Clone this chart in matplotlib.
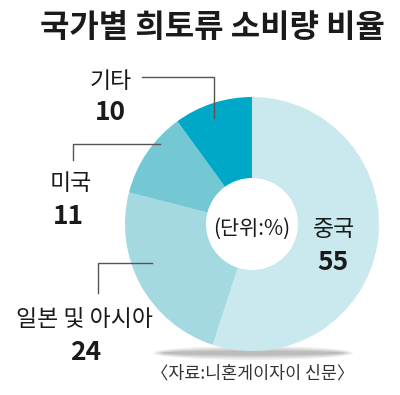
import matplotlib
matplotlib.use("Agg")
import matplotlib.pyplot as plt
from matplotlib.patches import Ellipse

plt.rcParams["font.family"] = ["Noto Sans CJK KR", "DejaVu Sans"]

# data
labels = ["중국", "일본 및 아시아", "미국", "기타"]
values = [55, 24, 11, 10]
colors = ["#c9e9ee", "#a4d9e1", "#73c8d3", "#00a8c8"]
title = "국가별 희토류 소비량 비율"
unit = "(단위:%)"
source = "〈자료:니혼게이자이 신문〉"

W, H = 400, 395
fig = plt.figure(figsize=(4.0, 3.95), dpi=100)
ax = fig.add_axes([0, 0, 1, 1])

def py(y):  # pixel row -> data y
    return H - y

cx, cy, R = 252, py(224), 127

# soft shadow under the donut
for i, a in enumerate([0.12, 0.15, 0.2, 0.25]):
    ax.add_patch(Ellipse((253, py(353)), 200 - i * 6, 14 - i * 3,
                         color="#8a8a8a", alpha=a, lw=0, zorder=1))

ax.pie(values, colors=colors, startangle=90, counterclock=False,
       center=(cx, cy), radius=R,
       wedgeprops=dict(width=R - 46, linewidth=0), frame=False)
for w in ax.patches[4:]:
    w.set_zorder(2)

ax.set_xlim(0, W)
ax.set_ylim(0, H)
ax.set_aspect("equal")
ax.axis("off")

ax.text(212, py(28), title, ha="center", va="center", fontsize=23,
        fontweight="bold", color="#1a1a1a")

lab_kw = dict(ha="center", va="center", fontsize=16.5, color="#1a1a1a")
num_kw = dict(ha="center", va="center", fontsize=19, fontweight="bold",
              color="#1a1a1a")

# label positions (pixel)
pos = {"중국": (334, 229, 333, 263),
       "일본 및 아시아": (85, 319, 86, 353),
       "미국": (71, 184, 68, 217),
       "기타": (111, 81, 110, 113)}
for lab, v in zip(labels, values):
    lx, ly, nx, ny = pos[lab]
    ax.text(lx, py(ly), lab, **lab_kw)
    ax.text(nx, py(ny), f"{v}", **num_kw)

ax.text(cx, py(229), unit, ha="center", va="center", fontsize=15,
        color="#1a1a1a")

line_kw = dict(color="#555555", lw=1.0, zorder=3)
ax.plot([142, 214, 214], [py(77), py(77), py(118)], **line_kw)
ax.plot([160, 73, 73], [py(144), py(144), py(160)], **line_kw)
ax.plot([152, 98, 98], [py(263), py(263), py(293)], **line_kw)

ax.text(253, py(373), source, ha="center", va="center", fontsize=12.5,
        color="#333333")

fig.savefig("out.png", dpi=100)
